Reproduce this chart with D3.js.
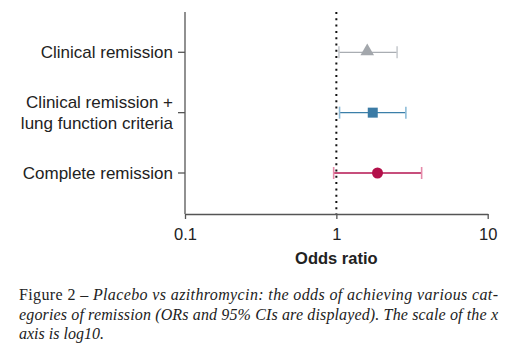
<!DOCTYPE html>
<html><head><meta charset="utf-8">
<script src="https://cdn.jsdelivr.net/npm/d3@7"></script>
<style>body{margin:0;background:#fff}</style>
</head><body>
<svg id="c" width="527" height="351"></svg>
<script>
const categories = [["Clinical remission"], ["Clinical remission +", "lung function criteria"], ["Complete remission"]];
const oddsRatio = [1.60, 1.74, 1.87];
const ciLower = [1.04, 1.05, 0.96];
const ciUpper = [2.52, 2.88, 3.66];
const xTicks = [0.1, 1, 10];
const xTickLabels = ["0.1", "1", "10"];
const markers = ["triangle", "square", "circle"];
const lineColors = ["#a9adb2", "#3b7fa9", "#b51450"];
const capColors = ["#c9ccd0", "#8ebcd8", "#e58aa9"];
const fillColors = ["#a3a7ac", "#3b7ba5", "#b3104a"];

const svg = d3.select("#c");
const x = d3.scaleLog().domain([0.1, 10]).range([185, 487.7]);
const y = d3.scalePoint().domain(d3.range(categories.length)).range([52.3, 173]);
const axisColor = "#555";

// x axis
const xa = svg.append("g").attr("transform", "translate(0,214)")
  .call(d3.axisBottom(x).tickValues(xTicks).tickFormat((d,i)=>xTickLabels[i]).tickSize(5).tickSizeOuter(0));
xa.select(".domain").attr("stroke", axisColor).attr("stroke-width", 1.3);
xa.selectAll(".tick line").attr("stroke", axisColor).attr("stroke-width", 1.3);
xa.selectAll(".tick text").attr("font-family", "Liberation Sans, Arial, sans-serif").attr("font-size", 16.5).attr("fill", "#222").attr("y", 26).attr("dy", null);

// y axis
svg.append("line").attr("x1", 185).attr("x2", 185).attr("y1", 12).attr("y2", 214).attr("stroke", axisColor).attr("stroke-width", 1.3);
categories.forEach((lines, i) => {
  svg.append("line").attr("x1", 178).attr("x2", 185).attr("y1", y(i)).attr("y2", y(i)).attr("stroke", axisColor).attr("stroke-width", 1.3);
  const t = svg.append("text").attr("x", 173).attr("text-anchor", "end")
    .attr("font-family", "Liberation Sans, Arial, sans-serif").attr("font-size", 17).attr("fill", "#222");
  const n = lines.length;
  lines.forEach((l, j) => {
    t.append("tspan").attr("x", 173).attr("y", y(i) + 6 + (j - (n - 1) / 2) * 21.6).text(l);
  });
});

// reference line
svg.append("line").attr("x1", x(1)).attr("x2", x(1)).attr("y1", 12).attr("y2", 214)
  .attr("stroke", "#111").attr("stroke-width", 2).attr("stroke-dasharray", "2,4.3");

// CIs
categories.forEach((c, i) => {
  const g = svg.append("g");
  g.append("line").attr("x1", x(ciLower[i])).attr("x2", x(ciUpper[i])).attr("y1", y(i)).attr("y2", y(i))
    .attr("stroke", lineColors[i]).attr("stroke-width", 1.3);
  [ciLower[i], ciUpper[i]].forEach(v => {
    g.append("line").attr("x1", x(v)).attr("x2", x(v)).attr("y1", y(i) - 6).attr("y2", y(i) + 6)
      .attr("stroke", capColors[i]).attr("stroke-width", 1.6);
  });
  const sym = {triangle: d3.symbolTriangle, square: d3.symbolSquare, circle: d3.symbolCircle}[markers[i]];
  const size = {triangle: 80, square: 100, circle: 95}[markers[i]];
  g.append("path").attr("d", d3.symbol().type(sym).size(size)())
    .attr("transform", `translate(${x(oddsRatio[i])},${y(i) + (markers[i]==="triangle"?-1:0)})`)
    .attr("fill", fillColors[i]);
});

// x title
svg.append("text").attr("x", x(1)).attr("y", 264).attr("text-anchor", "middle")
  .attr("font-family", "Liberation Sans, Arial, sans-serif").attr("font-weight", "bold").attr("font-size", 16.5).attr("fill", "#222").text("Odds ratio");

// caption
const cap = svg.append("g").attr("font-family", "Liberation Serif, Times New Roman, serif").attr("font-size", 16).attr("fill", "#222");
const l1 = cap.append("text").attr("x", 19).attr("y", 300).attr("textLength", 479).attr("lengthAdjust", "spacing");
l1.append("tspan").text("Figure 2 – ");
l1.append("tspan").attr("font-style", "italic").text("Placebo vs azithromycin: the odds of achieving various cat-");
cap.append("text").attr("x", 19).attr("y", 320).attr("textLength", 479).attr("lengthAdjust", "spacing").attr("font-style", "italic")
  .text("egories of remission (ORs and 95% CIs are displayed). The scale of the x");
cap.append("text").attr("x", 19).attr("y", 339).attr("font-style", "italic").text("axis is log10.");
</script>
</body></html>
